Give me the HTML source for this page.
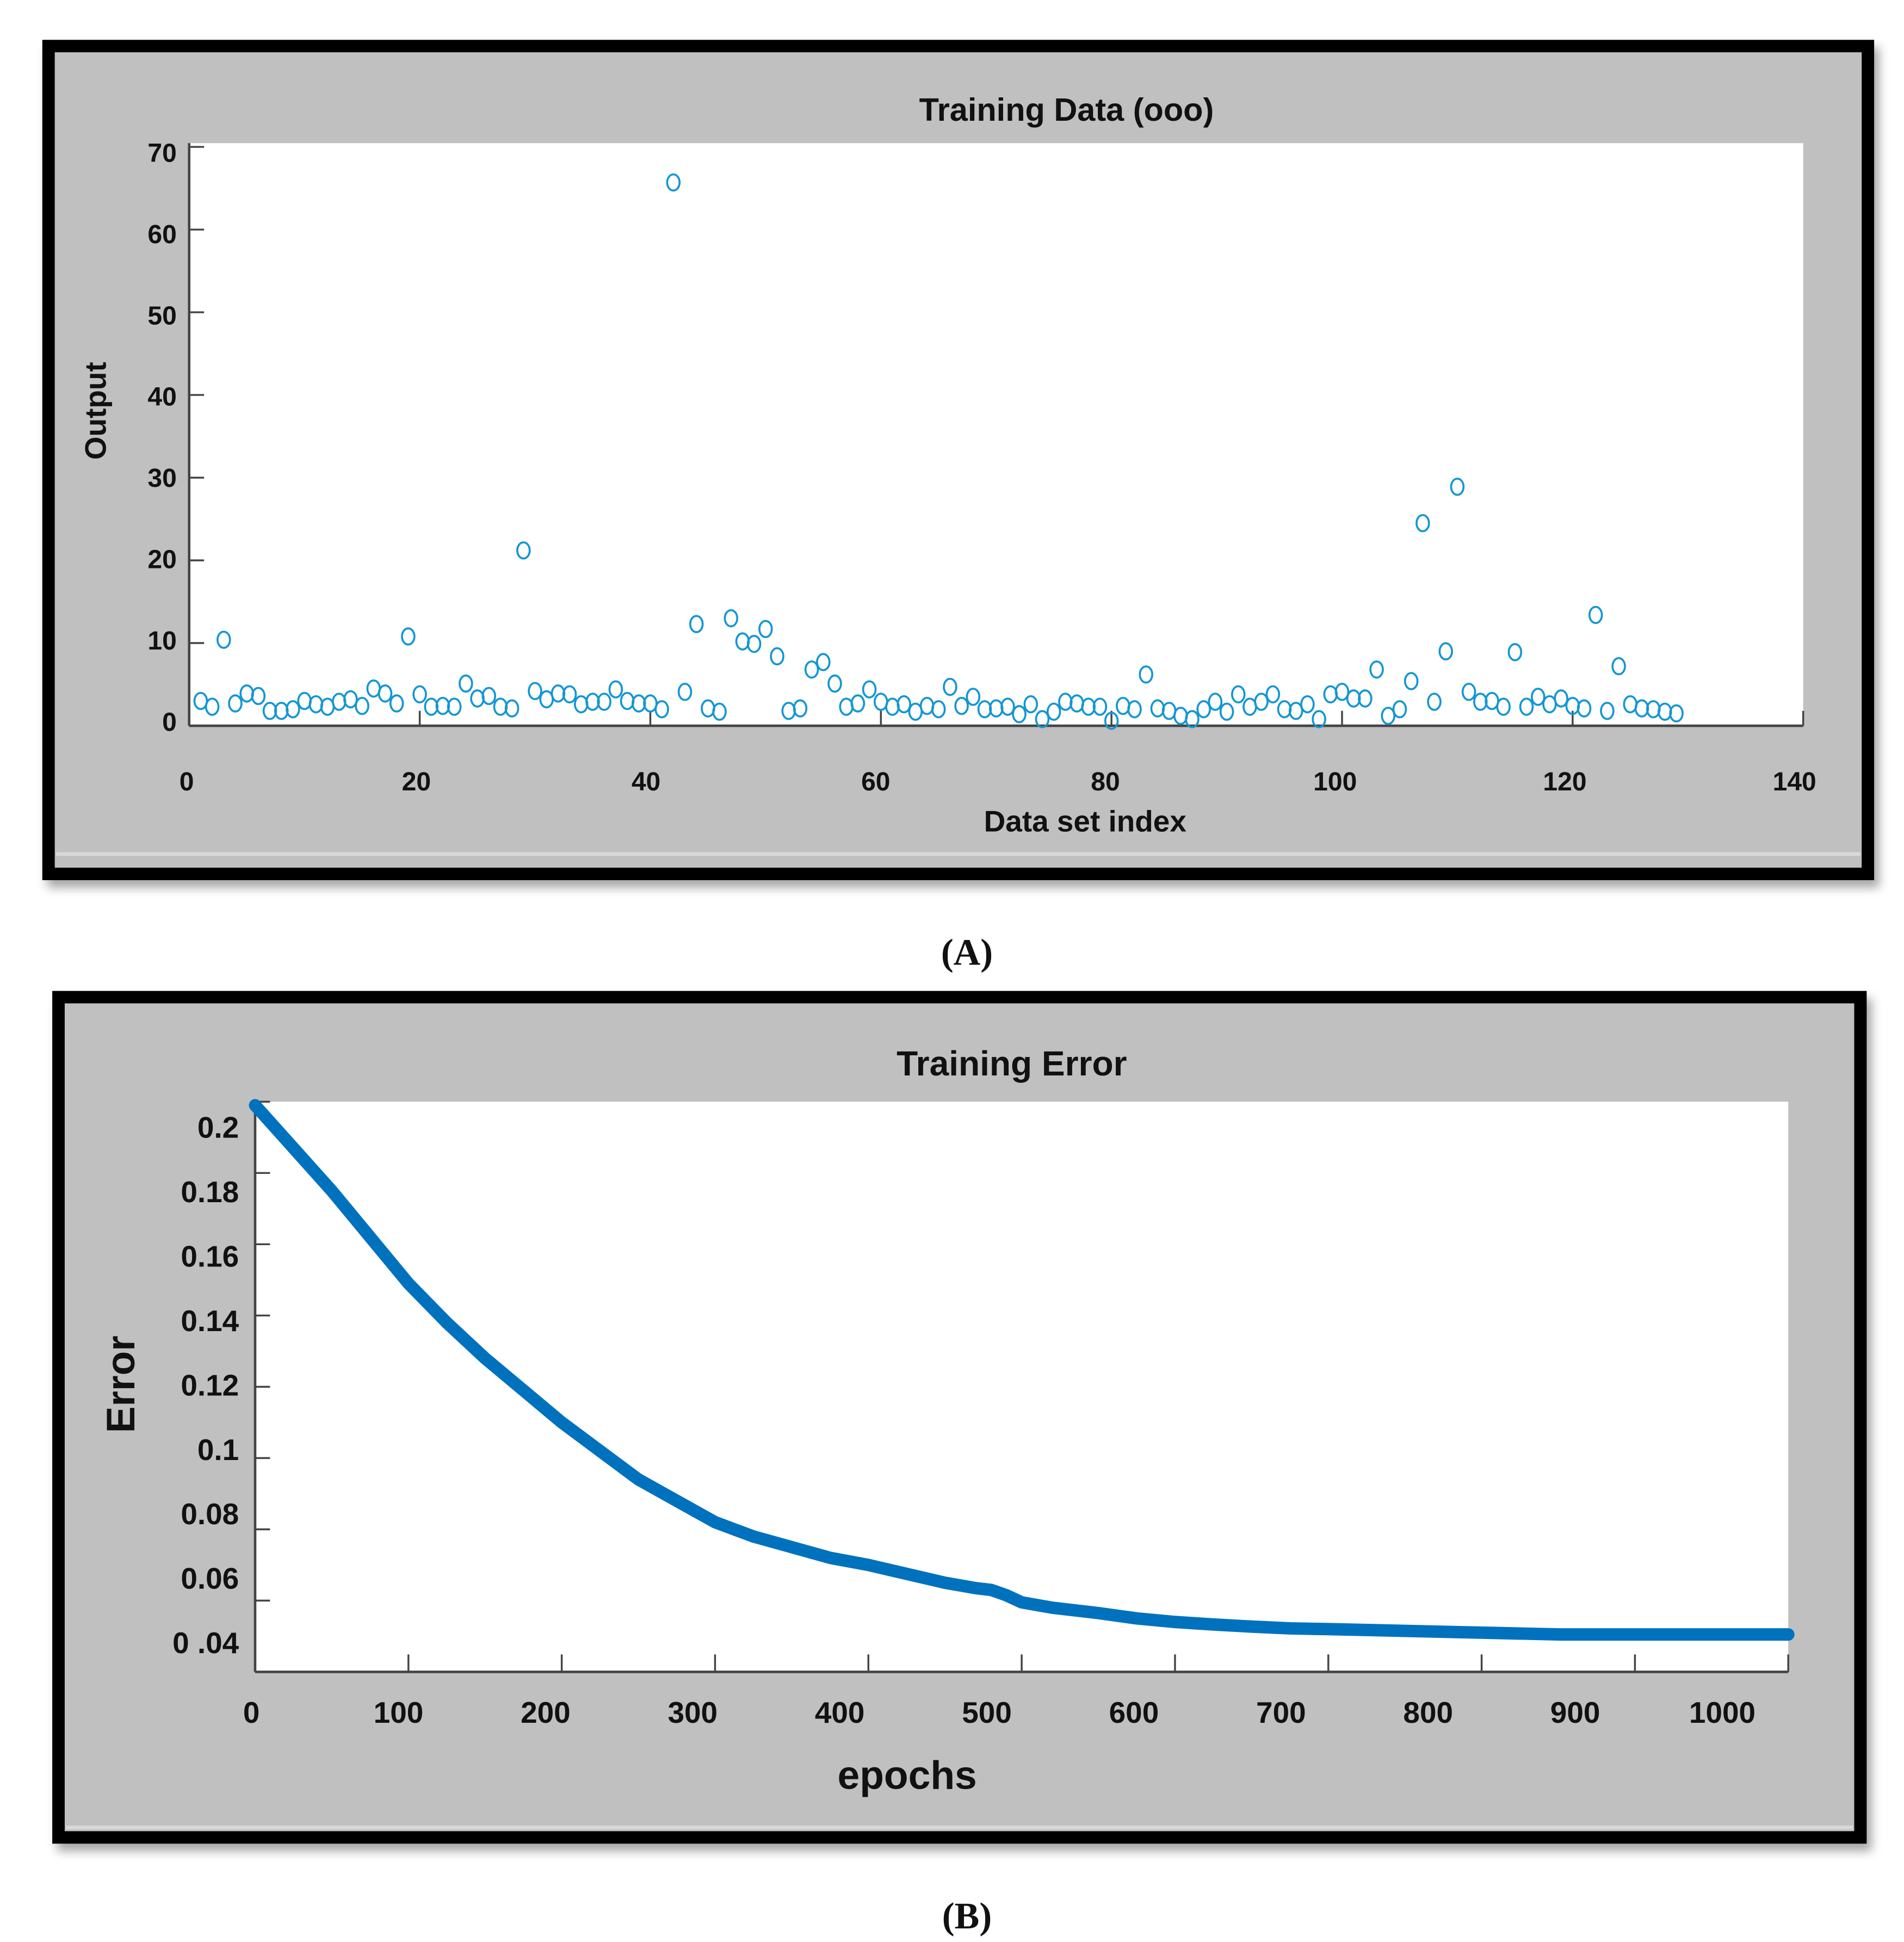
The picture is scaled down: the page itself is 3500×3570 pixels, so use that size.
<!DOCTYPE html>
<html><head><meta charset="utf-8"><style>
html,body{margin:0;padding:0;background:#fff;}
svg{display:block;}
text{font-family:"Liberation Sans",sans-serif;font-weight:bold;fill:#111;}
</style></head><body>
<svg id="fig" width="3500" height="3570" viewBox="0 0 1530 1560" preserveAspectRatio="none" xmlns="http://www.w3.org/2000/svg">
<defs><filter id="sh" x="-5%" y="-5%" width="110%" height="115%"><feDropShadow dx="4" dy="6" stdDeviation="4" flood-color="#000" flood-opacity="0.35"/></filter></defs>
<g>
<rect x="39" y="37" width="1462" height="665" fill="#c0c0c0" stroke="#000" stroke-width="10" filter="url(#sh)"/>
<line x1="45" y1="686" x2="1495" y2="686" stroke="#d8d8d8" stroke-width="3"/>
<rect x="152" y="115" width="1297" height="468" fill="#fff"/>
<text x="857" y="97" font-size="26" text-anchor="middle">Training Data (ooo)</text>
<text transform="translate(85,330) rotate(-90)" font-size="24" text-anchor="middle">Output</text>
<text x="872" y="668" font-size="24" text-anchor="middle">Data set index</text>
<g id="axA"></g>
<g id="ptsA"></g>
</g>
<text x="777" y="775" font-size="30" text-anchor="middle" style="font-family:'Liberation Serif',serif">(A)</text>
<g>
<rect x="47" y="801" width="1448" height="675" fill="#c0c0c0" stroke="#000" stroke-width="10" filter="url(#sh)"/>
<line x1="53" y1="1468" x2="1489" y2="1468" stroke="#d8d8d8" stroke-width="3"/>
<rect x="205" y="885" width="1232" height="458" fill="#fff"/>
<text x="813" y="864" font-size="28" text-anchor="middle">Training Error</text>
<text transform="translate(108,1112) rotate(-90)" font-size="32" text-anchor="middle">Error</text>
<text x="729" y="1437" font-size="32" text-anchor="middle">epochs</text>
<g id="axB"></g>
<g id="lineB"></g>
</g>
<text x="777" y="1549" font-size="30" text-anchor="middle" style="font-family:'Liberation Serif',serif">(B)</text>
</svg>
<script>
const outputValues = [3.0,2.3,10.4,2.7,3.9,3.6,1.8,1.8,2.0,3.0,2.6,2.3,2.9,3.2,2.4,4.5,3.9,2.7,10.8,3.8,2.3,2.4,2.3,5.1,3.3,3.6,2.3,2.1,21.2,4.2,3.2,3.9,3.8,2.6,2.9,2.9,4.4,3.0,2.7,2.7,2.0,65.7,4.1,12.3,2.1,1.7,13.0,10.2,9.9,11.7,8.4,1.8,2.1,6.8,7.7,5.1,2.3,2.7,4.4,2.9,2.3,2.6,1.7,2.4,2.0,4.7,2.4,3.5,2.0,2.1,2.3,1.4,2.6,0.8,1.7,2.9,2.7,2.3,2.3,0.6,2.4,2.0,6.2,2.1,1.8,1.2,0.8,2.0,2.9,1.7,3.8,2.3,2.9,3.8,2.0,1.8,2.6,0.8,3.8,4.1,3.3,3.3,6.8,1.2,2.0,5.4,24.5,2.9,9.0,28.9,4.1,2.9,3.0,2.3,8.9,2.3,3.5,2.6,3.3,2.4,2.1,13.4,1.8,7.2,2.6,2.1,2.0,1.7,1.5];
const xTicksA = [0,20,40,60,80,100,120,140];
const yTicksA = [0,10,20,30,40,50,60,70];
const epochs = [0,25,50,75,100,125,150,175,200,225,250,275,300,325,350,375,400,425,450,470,480,490,500,520,550,575,600,625,650,675,700,750,800,850,900,1000];
const errors = [0.199,0.187,0.175,0.162,0.149,0.138,0.128,0.119,0.110,0.102,0.094,0.088,0.082,0.078,0.075,0.072,0.070,0.0675,0.065,0.0635,0.063,0.0615,0.0595,0.058,0.0565,0.055,0.054,0.0533,0.0527,0.0522,0.052,0.0515,0.051,0.0505,0.0505,0.0505];
const xTicksB = [0,100,200,300,400,500,600,700,800,900,1000];
const yTicksB = [0.04,0.06,0.08,0.1,0.12,0.14,0.16,0.18,0.2];
const yLabelsB = ["0 .04","0.06","0.08","0.1","0.12","0.14","0.16","0.18","0.2"];

const NS="http://www.w3.org/2000/svg";
function mk(tag,attrs,parent,txt){const e=document.createElementNS(NS,tag);for(const k in attrs)e.setAttribute(k,attrs[k]);if(txt!==undefined)e.textContent=txt;parent.appendChild(e);return e;}
const xA=v=>152+v*(1297/140), yA=v=>583-v*(465/70);
const xLabA=v=>150+v*(1292/140), yLabA=v=>580-v*(457/70);
const axA=document.getElementById('axA');
mk('line',{x1:152,y1:583,x2:1449,y2:583,stroke:'#444','stroke-width':2},axA);
mk('line',{x1:152,y1:115,x2:152,y2:583,stroke:'#444','stroke-width':2},axA);
xTicksA.forEach(v=>{
  mk('line',{x1:xA(v),y1:583,x2:xA(v),y2:571,stroke:'#444','stroke-width':1.5},axA);
  const t=mk('text',{x:xLabA(v),y:635,'font-size':21,'text-anchor':'middle'},axA,String(v));
  
  
});
yTicksA.forEach(v=>{
  mk('line',{x1:152,y1:yA(v),x2:164,y2:yA(v),stroke:'#444','stroke-width':1.5},axA);
  const t=mk('text',{x:142,y:yLabA(v)+7,'font-size':21,'text-anchor':'end'},axA,String(v));
  
  
});
const ptsA=document.getElementById('ptsA');
outputValues.forEach((v,i)=>{
  const c=mk('ellipse',{cx:xA(i+1),cy:yA(v),rx:5,ry:6.5,fill:'none',stroke:'#1396d4','stroke-width':1.6},ptsA);
  
  
});
const xB=v=>205+v*(1232/1000), yB=v=>885+(0.2-v)*(458/0.16);
const xLabB=v=>202+v*(1182/1000), yLabB=v=>906+(0.2-v)*(414/0.16);
const axB=document.getElementById('axB');
mk('line',{x1:205,y1:1343,x2:1437,y2:1343,stroke:'#444','stroke-width':2},axB);
mk('line',{x1:205,y1:885,x2:205,y2:1343,stroke:'#444','stroke-width':2},axB);
xTicksB.forEach(v=>{
  mk('line',{x1:xB(v),y1:1343,x2:xB(v),y2:1329,stroke:'#444','stroke-width':1.5},axB);
  const t=mk('text',{x:xLabB(v),y:1384,'font-size':24,'text-anchor':'middle'},axB,String(v));
  
  
});
yTicksB.forEach((v,i)=>{
  mk('line',{x1:205,y1:yB(v),x2:217,y2:yB(v),stroke:'#444','stroke-width':1.5},axB);
  const t=mk('text',{x:192,y:yLabB(v)+8,'font-size':24,'text-anchor':'end'},axB,yLabelsB[i]);
  
  
});
const lineB=document.getElementById('lineB');
const p=mk('polyline',{points:epochs.map((e,i)=>xB(e)+','+yB(errors[i])).join(' '),fill:'none',stroke:'#0072bd','stroke-width':10,'stroke-linejoin':'round','stroke-linecap':'round'},lineB);


</script>
</body></html>
